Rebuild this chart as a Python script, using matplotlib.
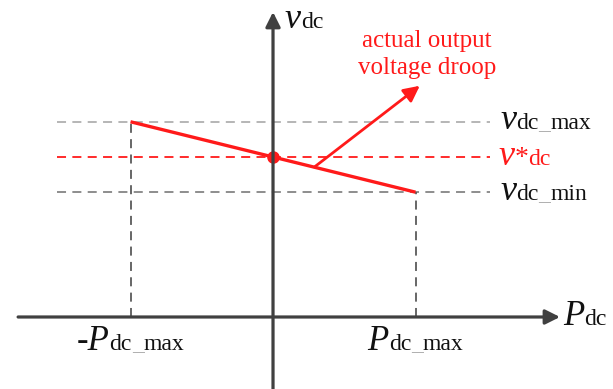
import matplotlib
matplotlib.use('Agg')
import matplotlib.pyplot as plt

plt.rcParams['font.family'] = ['Liberation Serif', 'DejaVu Serif']

# droop characteristic (normalised units)
P_max = 1.0
P_pts = [-P_max, 0.0, P_max]
v_max = 1.22
v_ref = 1.0
v_min = 0.78
v_pts = [v_max, v_ref, v_min]

# arrow to the annotation
arrow_from = (0.29, 0.937)
arrow_to = (1.03, 1.445)

RED = '#ff1a1a'
AXC = '#404040'

fig = plt.figure(figsize=(6.13, 3.89), dpi=100)
ax = fig.add_axes([0, 0, 1, 1])
ax.set_xlim(-1.916, 2.386)
ax.set_ylim(-0.45, 1.981)
ax.axis('off')
renderer = fig.canvas.get_renderer()


def compound(x, y, parts, align='left'):
    # parts: (text, style, size, color) placed side by side on one baseline
    arts = []
    for s, style, size, col in parts:
        t = ax.annotate(s, (x, y), xytext=(0, 0), textcoords='offset points',
                        fontsize=size, style=style, color=col,
                        va='baseline', ha='left')
        arts.append(t)
    widths = [t.get_window_extent(renderer).width * 72 / fig.dpi for t in arts]
    start = -sum(widths) / 2 if align == 'center' else 0
    for t, w in zip(arts, widths):
        t.xyann = (start, 0)
        start += w


# axes with arrows
ax.annotate('', xy=(2.014, 0), xytext=(-1.789, 0),
            arrowprops=dict(arrowstyle='-|>', color=AXC, lw=2.3,
                            mutation_scale=22, shrinkA=0, shrinkB=0))
ax.annotate('', xy=(0, 1.906), xytext=(0, -0.45),
            arrowprops=dict(arrowstyle='-|>', color=AXC, lw=2.3,
                            mutation_scale=22, shrinkA=0, shrinkB=0))

# horizontal reference lines
hx = [-1.516, 1.523]
ax.plot(hx, [v_max, v_max], color='#b0b0b0', lw=1.3, dashes=(5, 3.5))
ax.plot(hx, [v_ref, v_ref], color=RED, lw=1.3, dashes=(5, 3.5))
ax.plot(hx, [v_min, v_min], color='#858585', lw=1.3, dashes=(5, 3.5))

# vertical projections
ax.plot([P_pts[0], P_pts[0]], [0, v_pts[0]], color='#5a5a5a', lw=1.3, dashes=(5, 3.5))
ax.plot([P_pts[2], P_pts[2]], [0, v_pts[2]], color='#5a5a5a', lw=1.3, dashes=(5, 3.5))

# droop line and operating point
ax.plot([P_pts[0], P_pts[2]], [v_pts[0], v_pts[2]], color=RED, lw=2.4,
        solid_capstyle='butt')
ax.plot([P_pts[1]], [v_pts[1]], 'o', color=RED, ms=8)

ax.annotate('', xy=arrow_to, xytext=arrow_from,
            arrowprops=dict(arrowstyle='-|>', color=RED, lw=2,
                            mutation_scale=24, shrinkA=0, shrinkB=0))
ax.text(1.08, 1.64, 'actual output\nvoltage droop', color=RED, fontsize=18,
        ha='center', va='center', linespacing=1.25)

# labels
K, G = '#111111', '#aaaaaa'
compound(0.084, 1.806, [('v', 'italic', 26, K), ('dc', 'normal', 17, K)])
compound(2.035, -0.05, [('P', 'italic', 25, K), ('dc', 'normal', 17, K)])
compound(1.593, 1.175, [('v', 'italic', 26, K), ('dc', 'normal', 17, K),
                        ('_', 'normal', 17, G), ('max', 'normal', 17, K)])
compound(1.58, 0.95, [('v', 'italic', 26, RED), ('*', 'normal', 20, RED),
                      ('dc', 'normal', 17, RED)])
compound(1.593, 0.731, [('v', 'italic', 26, K), ('dc', 'normal', 17, K),
                        ('_', 'normal', 17, G), ('min', 'normal', 17, K)])
compound(-P_max, -0.206, [('-P', 'italic', 25, K), ('dc', 'normal', 17, K),
                          ('_', 'normal', 17, G), ('max', 'normal', 17, K)],
         align='center')
compound(P_max, -0.206, [('P', 'italic', 25, K), ('dc', 'normal', 17, K),
                         ('_', 'normal', 17, G), ('max', 'normal', 17, K)],
         align='center')

fig.savefig('out.png', dpi=100)
